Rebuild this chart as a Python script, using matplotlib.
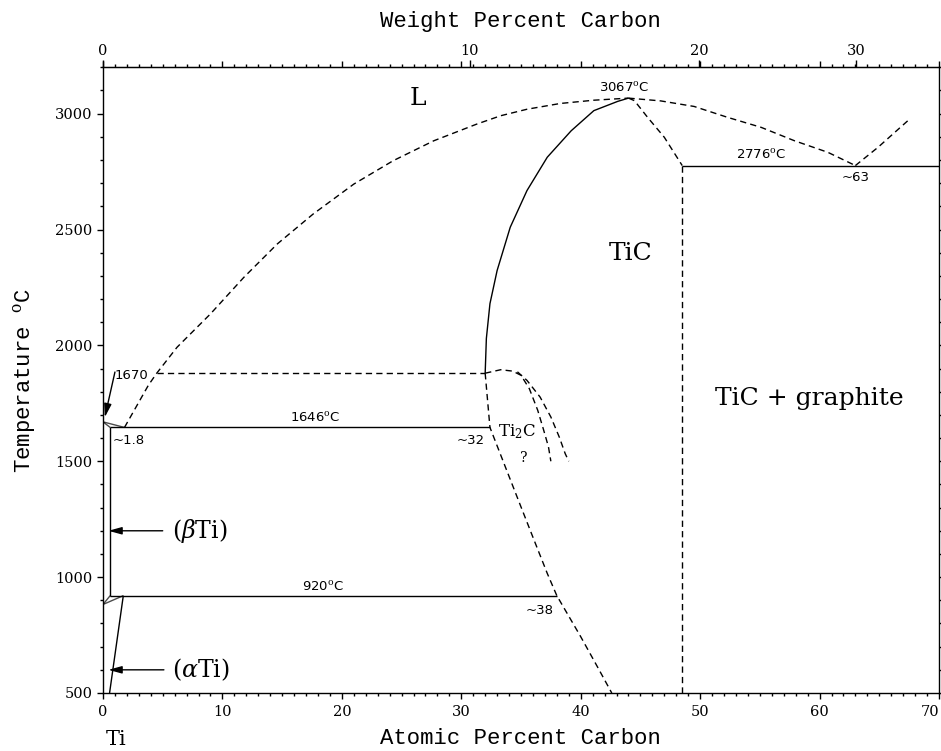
import numpy as np
import matplotlib
matplotlib.use("Agg")
import matplotlib.pyplot as plt
from matplotlib.ticker import MultipleLocator, FixedLocator

plt.rcParams['mathtext.fontset'] = 'dejavuserif'

# ---------------- data (atomic % C, temperature degC) ----------------
liq_left_x = [1.8, 3.8, 4.5, 6.2, 9.0, 11.8, 14.6, 17.6, 21.0, 24.3, 27.7, 31.3, 33.3, 35.5, 38.3, 41.1, 44.0]
liq_left_T = [1646, 1828, 1880, 1992, 2136, 2294, 2438, 2567, 2696, 2797, 2883, 2955, 2991, 3019, 3044, 3058, 3067]
liq_right_x = [44.0, 46.7, 49.5, 52.3, 55.1, 57.9, 60.7, 63.0]
liq_right_T = [3067, 3055, 3031, 2984, 2941, 2883, 2833, 2776]
graph_liq_x = [63.0, 64.9, 67.4]
graph_liq_T = [2776, 2855, 2970]

tic_sol_x = [32.0, 32.1, 32.4, 33.0, 34.1, 35.5, 37.2, 39.2, 41.1, 43.1, 44.0]
tic_sol_T = [1880, 2030, 2180, 2323, 2510, 2668, 2812, 2926, 3013, 3053, 3067]
tic_right_x = [44.0, 44.5, 45.6, 47.0, 48.5]
tic_right_T = [3067, 3056, 2984, 2898, 2776]
tic_low_x = [32.0, 32.4, 33.8, 35.0, 36.1, 37.2, 38.0, 40.0, 41.4, 42.6]
tic_low_T = [1880, 1646, 1461, 1303, 1159, 1016, 920, 743, 613, 500]
tic_c_limit = 48.5

ti2c_a_x = [32.0, 33.3, 34.3, 35.0, 35.7, 36.4, 36.9, 37.3, 37.5]
ti2c_a_T = [1880, 1895, 1889, 1871, 1813, 1720, 1634, 1562, 1500]
ti2c_b_x = [34.7, 35.5, 36.6, 37.5, 38.2, 38.7, 39.0]
ti2c_b_T = [1886, 1849, 1777, 1691, 1605, 1533, 1500]

ti_melt_T = 1670
peritectic_T = 1880
peritectic_x = [4.5, 32.0]
eut_high_T = 1646
eut_high_x = [0.6, 32.4]
eutectoid_T = 920
eutectoid_x = [0.6, 38.0]
beta_x = 0.6
liq_lens_x = [0.0, 1.8]
sol_lens_x = [0.0, 0.6]
ti_transus_T = 882
alpha_x = [1.7, 0.55]
alpha_T = [920, 500]
graphite_eut_T = 2776
graphite_eut_x = [48.5, 70.0]

wt_ticks = [0, 10, 20, 30]

# ---------------- figure ----------------
W, H = 941, 751
fig = plt.figure(figsize=(W / 100, H / 100), dpi=100)
ax = fig.add_axes([103 / W, 1 - 693 / H, (939 - 103) / W, (693 - 67.3) / H])
ax.set_xlim(0, 70)
ax.set_ylim(500, 3200)

lw = 1.0
dash = (0, (4.5, 3))
k = 'black'

def solid(x, y, **kw):
    ax.plot(x, y, color=k, lw=lw, solid_capstyle='butt', **kw)

def dashed(x, y):
    ax.plot(x, y, color=k, lw=lw, linestyle=dash)

dashed(liq_left_x, liq_left_T)
dashed(liq_right_x, liq_right_T)
dashed(graph_liq_x, graph_liq_T)
solid(tic_sol_x, tic_sol_T)
dashed(tic_right_x, tic_right_T)
dashed([tic_c_limit, tic_c_limit], [graphite_eut_T, 500])
solid(graphite_eut_x, [graphite_eut_T] * 2)
dashed(tic_low_x, tic_low_T)
dashed(ti2c_a_x, ti2c_a_T)
dashed(ti2c_b_x, ti2c_b_T)
dashed(peritectic_x, [peritectic_T] * 2)
solid(eut_high_x, [eut_high_T] * 2)
solid(eutectoid_x, [eutectoid_T] * 2)
solid([beta_x, beta_x], [eutectoid_T, eut_high_T])
solid(liq_lens_x, [ti_melt_T, eut_high_T], alpha=0.7)
solid(sol_lens_x, [ti_melt_T, eut_high_T], alpha=0.7)
solid([0.0, 0.6], [ti_transus_T, eutectoid_T], alpha=0.7)
solid([0.0, 1.7], [ti_transus_T, eutectoid_T], alpha=0.7)
solid(alpha_x, alpha_T)

# ---------------- annotations ----------------
arw = dict(arrowstyle='-|>,head_length=0.8,head_width=0.22', color=k, lw=1.0,
           shrinkA=0, shrinkB=0)
ax.annotate('', xy=(0.45, 1200), xytext=(5.0, 1200), arrowprops=arw)
ax.annotate('', xy=(0.45, 600), xytext=(5.1, 600), arrowprops=arw)
ax.annotate('', xy=(0.15, 1690), xytext=(1.0, 1885), arrowprops=arw)

ax.text(5.8, 1200, r'$(\beta\mathrm{Ti})$', fontsize=17, ha='left', va='center')
ax.text(5.8, 600, r'$(\alpha\mathrm{Ti})$', fontsize=17, ha='left', va='center')

small = dict(fontsize=9.5, family='DejaVu Sans')
ax.text(1.0, 1871, '1670', ha='left', va='center', **small)
ax.text(17.8, 1655, r'1646$^{\mathrm{o}}$C', ha='center', va='bottom', **small)
ax.text(18.4, 928, r'920$^{\mathrm{o}}$C', ha='center', va='bottom', **small)
ax.text(0.8, 1590, '~1.8', ha='left', va='center', **small)
ax.text(30.8, 1590, '~32', ha='center', va='center', **small)
ax.text(36.6, 855, '~38', ha='center', va='center', **small)
ax.text(43.6, 3080, r'3067$^{\mathrm{o}}$C', ha='center', va='bottom', **small)
ax.text(55.1, 2790, r'2776$^{\mathrm{o}}$C', ha='center', va='bottom', **small)
ax.text(63.0, 2725, '~63', ha='center', va='center', **small)
ax.text(33.1, 1626, r'Ti$_2$C', ha='left', va='center', fontsize=12, family='DejaVu Serif')
ax.text(35.2, 1513, '?', ha='center', va='center', fontsize=10, family='DejaVu Serif')

big = dict(fontsize=18, family='DejaVu Serif')
ax.text(26.4, 3064, 'L', ha='center', va='center', **big)
ax.text(44.2, 2395, 'TiC', ha='center', va='center', **big)
ax.text(59.1, 1772, 'TiC + graphite', ha='center', va='center', **big)

ax.text(0.2, -0.075, 'Ti', transform=ax.get_xaxis_transform(), ha='left', va='center',
        fontsize=15, family='DejaVu Serif')

title = dict(fontsize=16, family='Liberation Mono')
fig.text(520 / W, 1 - 738 / H, 'Atomic Percent Carbon', ha='center', va='center', **title)
fig.text(520 / W, 1 - 22 / H, 'Weight Percent Carbon', ha='center', va='center', **title)
fig.text(25 / W, 1 - 381 / H, r'Temperature $^{\mathrm{o}}$C', rotation=90,
         ha='center', va='center', **title)

# ---------------- axes / ticks ----------------
for s in ax.spines.values():
    s.set_linewidth(1.0)
ax.xaxis.set_major_locator(MultipleLocator(10))
ax.xaxis.set_minor_locator(MultipleLocator(1))
ax.yaxis.set_major_locator(MultipleLocator(500))
ax.yaxis.set_minor_locator(MultipleLocator(100))
ax.tick_params(which='both', direction='out', top=True, right=True, width=1.0,
               labeltop=False, labelright=False)
ax.tick_params(which='major', length=4.5)
ax.tick_params(which='minor', length=2.5)
ax.tick_params(axis='x', which='major', pad=4.5)
ax.tick_params(axis='y', which='major', pad=3)
fig.canvas.draw()
xlabs = ax.get_xticklabels()
for lab in xlabs + ax.get_yticklabels():
    lab.set_family('DejaVu Serif')
    lab.set_fontsize(10.5)
# keep the last bottom label ("70") inside the canvas
for lab in xlabs:
    if lab.get_text().strip() == '70':
        lab.set_horizontalalignment('right')


def at2wt(a):
    a = np.asarray(a, dtype=float)
    return 100 * a * 12.011 / (a * 12.011 + (100 - a) * 47.867)


def wt2at(w):
    w = np.asarray(w, dtype=float)
    return 100 * (w / 12.011) / (w / 12.011 + (100 - w) / 47.867)


sec = ax.secondary_xaxis('top', functions=(at2wt, wt2at))
sec.xaxis.set_major_locator(FixedLocator(wt_ticks))
sec.xaxis.set_minor_locator(FixedLocator([]))
sec.tick_params(direction='out', length=5, width=1.0, pad=2)
for lab in sec.get_xticklabels():
    lab.set_family('DejaVu Serif')
    lab.set_fontsize(10.5)

fig.savefig('out.png', dpi=100, facecolor='white')
